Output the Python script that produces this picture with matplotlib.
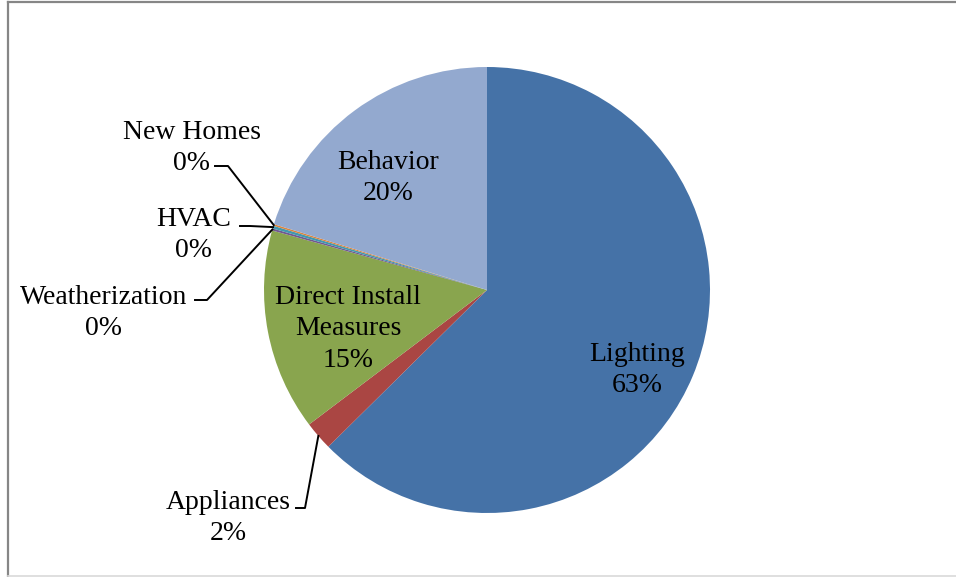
import numpy as np
import matplotlib
matplotlib.use("Agg")
import matplotlib.pyplot as plt
from matplotlib.lines import Line2D

# Share of savings by program
categories = ["Lighting", "Appliances", "Direct Install\nMeasures", "Weatherization",
              "HVAC", "New Homes", "Behavior"]
shares = [62.6, 2.1, 14.6, 0.15, 0.2, 0.12, 20.23]
colors = ["#4572A7", "#AA4643", "#89A54E", "#71588F", "#4198AF", "#DB843D", "#93A9CF"]

W, H = 956, 577
DPI = 100
R_PX = 223.0          # pie radius in pixels
CX, CY = 487.0, 287.0  # pie centre in pixels (from bottom-left)

plt.rcParams["font.family"] = ["Liberation Serif", "DejaVu Serif"]

fig = plt.figure(figsize=(W / DPI, H / DPI), dpi=DPI)
fig.patch.set_facecolor("white")
ax = fig.add_axes([0, 0, 1, 1])


def px(x, y_top):
    """Pixel position (from top-left) to data coordinates."""
    return (x - CX) / R_PX, ((H - y_top) - CY) / R_PX


wedges, _ = ax.pie(shares, colors=colors, startangle=90, counterclock=False,
                   radius=1.0, center=(0, 0), frame=True,
                   wedgeprops=dict(linewidth=0))
ax.set_xlim(-CX / R_PX, (W - CX) / R_PX)
ax.set_ylim(-CY / R_PX, (H - CY) / R_PX)
ax.set_aspect("auto")
ax.axis("off")

total = sum(shares)
pct = [f"{round(v / total * 100):.0f}%" for v in shares]
FS = 20.0
LS = 1.32

# Labels drawn inside the larger slices
inside = {0: (637, 370), 2: (348, 329), 6: (388, 178)}
for i, (x, y) in inside.items():
    tx, ty = px(x, y)
    ax.text(tx, ty, f"{categories[i]}\n{pct[i]}", ha="center", va="center",
            fontsize=FS, color="black", linespacing=LS)

# Labels placed outside with leader lines: text centre, leader start, elbow
outside = {
    1: ((228, 518), (296, 508), (305, 508)),
    3: ((104, 313), (195, 300), (207, 300)),
    4: ((194, 235), (240, 226), (250, 226)),
    5: ((192, 148), (215, 166), (228, 166)),
}
for i, (tc, start, elbow) in outside.items():
    tx, ty = px(*tc)
    ax.text(tx, ty, f"{categories[i]}\n{pct[i]}", ha="center", va="center",
            fontsize=FS, color="black", linespacing=LS)
    w = wedges[i]
    mid = np.deg2rad((w.theta1 + w.theta2) / 2)
    end = (np.cos(mid) * 1.0, np.sin(mid) * 1.0)
    s = px(*start)
    e = px(*elbow)
    ax.add_line(Line2D([s[0], e[0], end[0]], [s[1], e[1], end[1]],
                       color="black", linewidth=1.4))

# Chart frame
fig.add_artist(Line2D([7.5 / W, 7.5 / W], [0, (H - 1.5) / H], transform=fig.transFigure,
                      color="#868686", linewidth=1.6))
fig.add_artist(Line2D([7.5 / W, 1], [(H - 1.5) / H, (H - 1.5) / H], transform=fig.transFigure,
                      color="#868686", linewidth=1.6))
fig.add_artist(Line2D([7.5 / W, 1], [1.5 / H, 1.5 / H], transform=fig.transFigure,
                      color="#d9d9d9", linewidth=1.2))

fig.savefig("out.png", dpi=DPI, facecolor="white")
